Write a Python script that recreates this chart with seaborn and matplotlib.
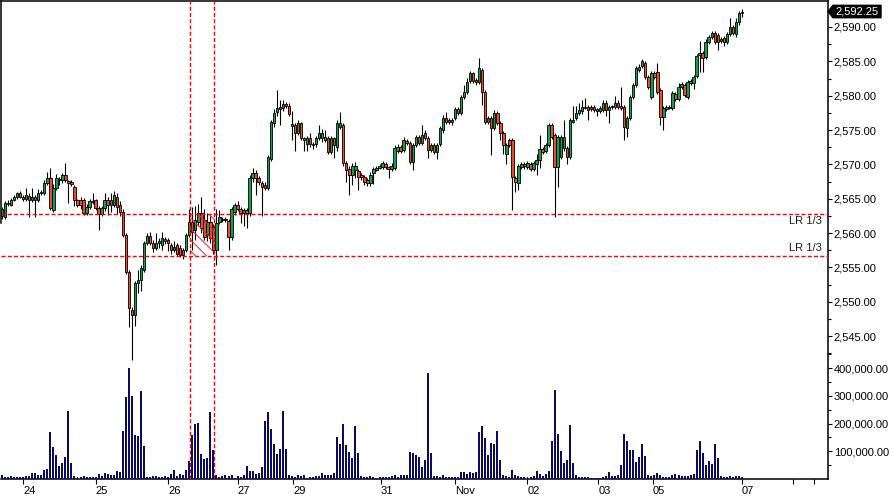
import numpy as np
import pandas as pd
import matplotlib
matplotlib.use("Agg")
import matplotlib.pyplot as plt
import matplotlib.transforms as mtransforms
from matplotlib.patches import Rectangle, Polygon
from matplotlib.collections import LineCollection
import seaborn as sns

# ---------------- data ----------------
opens = [
    2562.5, 2562.3, 2564.4, 2564.1, 2564.8, 2565.3, 2565.9, 2565.3, 2564.9, 2565.4, 2564.8, 2565.3, 2564.8, 2565.8, 2565.9, 2567.3,
    2568.0, 2563.4, 2566.6, 2567.8, 2567.7, 2568.5, 2567.6, 2567.5, 2566.7, 2564.8, 2564.8, 2564.8, 2562.9, 2563.8, 2564.5, 2564.8,
    2563.7, 2562.8, 2563.7, 2564.8, 2564.1, 2564.1, 2565.3, 2564.1, 2563.0, 2559.7, 2554.3, 2548.8, 2548.1, 2552.7, 2553.2, 2554.6,
    2558.6, 2559.6, 2558.6, 2557.8, 2558.5, 2558.3, 2559.1, 2559.0, 2558.3, 2557.5, 2558.3, 2557.8, 2557.5, 2557.5, 2559.7, 2561.6,
    2560.5, 2561.6, 2562.9, 2561.9, 2559.8, 2561.6, 2560.9, 2557.5, 2561.6, 2562.0, 2561.9, 2561.8, 2559.4, 2563.0, 2564.1, 2563.5,
    2562.9, 2563.3, 2562.9, 2568.0, 2568.8, 2568.0, 2567.3, 2567.0, 2566.6, 2570.8, 2576.0, 2577.6, 2578.4, 2578.2, 2578.8, 2578.5,
    2575.9, 2575.7, 2574.6, 2576.0, 2573.8, 2572.9, 2573.8, 2573.0, 2572.9, 2573.8, 2573.8, 2574.0, 2573.8, 2571.8, 2573.8, 2572.5,
    2575.5, 2575.7, 2570.2, 2569.4, 2568.5, 2569.2, 2569.0, 2568.4, 2568.2, 2567.7, 2567.3, 2568.7, 2569.2, 2569.5, 2569.6, 2570.1,
    2569.6, 2569.3, 2569.5, 2572.0, 2572.5, 2572.1, 2573.4, 2573.1, 2570.3, 2572.8, 2574.0, 2573.1, 2574.5, 2573.9, 2572.1, 2572.8,
    2571.8, 2573.0, 2575.0, 2576.8, 2576.4, 2576.4, 2576.7, 2578.0, 2577.5, 2579.8, 2580.5, 2582.1, 2583.3, 2582.3, 2582.0, 2583.7,
    2580.5, 2576.2, 2576.8, 2575.3, 2577.5, 2576.0, 2574.6, 2571.5, 2573.5, 2573.5, 2568.0, 2567.3, 2569.6, 2570.1, 2569.6, 2570.1,
    2569.4, 2570.0, 2570.6, 2572.3, 2571.9, 2572.8, 2575.7, 2574.3, 2569.6, 2571.1, 2572.4, 2572.4, 2571.1, 2576.2, 2576.7, 2577.5,
    2577.7, 2578.4, 2578.4, 2578.0, 2578.3, 2578.0, 2577.8, 2577.9, 2579.0, 2577.9, 2578.3, 2578.4, 2579.0, 2578.5, 2578.4, 2575.3,
    2576.8, 2579.8, 2581.6, 2583.8, 2584.3, 2584.8, 2582.7, 2579.8, 2583.3, 2583.5, 2580.8, 2576.9, 2578.0, 2578.2, 2578.2, 2580.3,
    2579.5, 2581.3, 2581.6, 2579.8, 2581.9, 2581.9, 2582.9, 2585.9, 2586.2, 2585.6, 2587.8, 2588.5, 2589.1, 2588.8, 2587.9, 2588.4,
    2587.8, 2589.0, 2590.0, 2589.0, 2590.7, 2592.0,
]
highs = [
    2563.8, 2564.6, 2564.8, 2565.1, 2565.6, 2566.0, 2566.1, 2565.5, 2566.6, 2565.8, 2566.5, 2565.6, 2566.4, 2566.3, 2567.8, 2568.9,
    2569.5, 2567.2, 2568.6, 2568.2, 2568.8, 2570.2, 2567.8, 2567.8, 2567.0, 2565.0, 2565.2, 2565.1, 2564.2, 2565.0, 2565.8, 2565.0,
    2564.0, 2564.0, 2565.8, 2565.2, 2565.8, 2566.1, 2565.8, 2564.6, 2563.5, 2560.0, 2554.6, 2549.3, 2553.0, 2554.6, 2555.3, 2558.9,
    2560.0, 2560.1, 2559.0, 2560.0, 2559.3, 2560.1, 2559.5, 2559.3, 2558.6, 2558.8, 2558.6, 2558.2, 2557.8, 2560.0, 2563.5, 2563.8,
    2564.0, 2564.3, 2565.2, 2563.5, 2562.9, 2562.5, 2561.3, 2563.5, 2563.4, 2562.3, 2562.3, 2562.0, 2563.8, 2564.4, 2564.6, 2563.8,
    2563.6, 2563.7, 2568.4, 2569.5, 2569.2, 2568.3, 2567.6, 2567.4, 2571.4, 2576.5, 2578.0, 2580.8, 2579.3, 2579.3, 2579.1, 2578.9,
    2577.8, 2576.0, 2576.4, 2576.2, 2574.0, 2574.2, 2574.5, 2573.3, 2574.2, 2575.8, 2575.2, 2575.0, 2574.2, 2574.2, 2574.0, 2576.4,
    2577.6, 2576.0, 2570.5, 2569.8, 2570.2, 2570.3, 2569.3, 2568.7, 2568.5, 2568.0, 2568.9, 2569.6, 2569.8, 2570.0, 2570.5, 2570.4,
    2569.8, 2570.2, 2572.8, 2573.0, 2572.8, 2574.0, 2573.7, 2573.4, 2573.1, 2574.3, 2574.3, 2575.8, 2575.0, 2574.2, 2573.1, 2573.1,
    2573.1, 2575.6, 2577.2, 2577.6, 2576.8, 2576.7, 2578.3, 2578.3, 2580.1, 2581.6, 2582.6, 2583.6, 2583.5, 2582.6, 2585.5, 2584.1,
    2580.8, 2577.1, 2577.1, 2577.9, 2577.8, 2576.3, 2574.9, 2573.1, 2573.8, 2573.8, 2568.3, 2570.1, 2570.4, 2570.4, 2570.5, 2570.4,
    2570.5, 2571.5, 2574.3, 2572.6, 2573.1, 2576.0, 2576.0, 2574.6, 2574.3, 2574.3, 2576.5, 2572.7, 2576.8, 2578.5, 2578.5, 2579.0,
    2579.3, 2579.6, 2578.6, 2578.7, 2578.6, 2578.2, 2578.5, 2579.3, 2579.3, 2578.7, 2578.7, 2580.0, 2579.3, 2581.3, 2578.7, 2577.1,
    2580.1, 2581.9, 2584.3, 2584.6, 2585.3, 2585.1, 2583.0, 2583.6, 2583.6, 2584.7, 2581.1, 2578.5, 2578.6, 2578.7, 2580.7, 2580.6,
    2581.9, 2582.0, 2581.9, 2582.3, 2582.5, 2583.0, 2586.1, 2588.0, 2586.5, 2588.3, 2588.8, 2589.4, 2589.4, 2589.1, 2588.5, 2588.7,
    2589.3, 2591.3, 2590.3, 2591.3, 2592.3, 2592.6,
]
lows = [
    2562.0, 2562.0, 2563.9, 2563.9, 2564.6, 2565.0, 2565.1, 2564.6, 2564.6, 2562.3, 2564.5, 2562.4, 2564.5, 2565.5, 2565.6, 2567.0,
    2563.4, 2563.0, 2566.3, 2567.0, 2567.3, 2567.5, 2564.4, 2566.9, 2564.0, 2563.8, 2563.5, 2562.6, 2562.6, 2563.5, 2564.3, 2563.4,
    2560.5, 2562.5, 2563.2, 2562.6, 2563.0, 2563.8, 2562.8, 2562.5, 2559.4, 2554.0, 2546.3, 2541.5, 2546.5, 2551.3, 2551.5, 2554.3,
    2558.3, 2558.2, 2557.3, 2557.5, 2557.8, 2557.6, 2558.4, 2557.4, 2557.0, 2557.2, 2556.7, 2556.5, 2556.2, 2557.3, 2559.4, 2557.5,
    2559.0, 2561.0, 2560.0, 2559.0, 2558.8, 2558.5, 2557.0, 2555.4, 2561.3, 2561.6, 2561.6, 2557.5, 2559.0, 2562.7, 2563.2, 2561.5,
    2561.0, 2560.8, 2562.5, 2567.4, 2565.5, 2567.0, 2562.5, 2566.2, 2566.3, 2570.5, 2575.5, 2577.0, 2575.7, 2577.8, 2578.2, 2577.0,
    2573.5, 2572.0, 2574.3, 2573.5, 2572.0, 2572.0, 2572.6, 2572.3, 2572.6, 2573.5, 2573.3, 2573.2, 2571.5, 2571.5, 2571.0, 2572.0,
    2575.2, 2569.8, 2567.4, 2565.5, 2567.0, 2568.0, 2566.3, 2567.8, 2567.0, 2566.8, 2566.9, 2567.2, 2569.0, 2569.3, 2569.4, 2569.3,
    2568.0, 2569.0, 2569.2, 2571.7, 2571.6, 2571.8, 2572.8, 2570.0, 2569.2, 2572.5, 2572.8, 2572.8, 2573.5, 2571.0, 2571.8, 2571.5,
    2570.8, 2572.7, 2574.6, 2575.9, 2575.9, 2575.8, 2576.4, 2577.2, 2577.2, 2579.5, 2580.2, 2581.8, 2581.8, 2581.5, 2581.7, 2578.6,
    2575.9, 2575.9, 2571.4, 2575.0, 2575.7, 2573.5, 2571.5, 2570.0, 2572.5, 2563.4, 2566.0, 2566.3, 2569.3, 2569.4, 2569.3, 2569.1,
    2569.0, 2568.5, 2569.5, 2571.5, 2571.6, 2572.5, 2573.7, 2562.3, 2566.7, 2570.8, 2572.0, 2570.0, 2570.8, 2576.0, 2576.4, 2577.2,
    2577.4, 2578.0, 2576.5, 2577.7, 2577.6, 2577.0, 2577.5, 2577.6, 2577.0, 2576.0, 2578.0, 2578.1, 2578.0, 2577.9, 2573.5, 2574.0,
    2576.5, 2579.5, 2581.3, 2583.5, 2584.0, 2582.4, 2581.0, 2579.5, 2582.4, 2580.2, 2575.7, 2575.0, 2577.7, 2578.0, 2577.9, 2579.2,
    2579.2, 2581.0, 2579.8, 2579.5, 2581.6, 2581.0, 2582.6, 2583.5, 2583.5, 2585.3, 2587.5, 2588.2, 2587.5, 2586.6, 2587.6, 2587.2,
    2587.5, 2588.7, 2588.8, 2588.5, 2590.3, 2591.5,
]
closes = [
    2563.5, 2564.4, 2564.2, 2564.8, 2565.3, 2565.8, 2565.3, 2564.9, 2565.5, 2564.8, 2565.3, 2564.8, 2565.8, 2566.0, 2567.3, 2568.0,
    2563.7, 2566.6, 2568.0, 2567.7, 2568.5, 2567.7, 2567.3, 2567.2, 2564.8, 2564.1, 2564.1, 2562.9, 2563.8, 2564.6, 2564.7, 2563.7,
    2562.8, 2563.7, 2564.8, 2564.1, 2564.8, 2565.5, 2563.8, 2563.1, 2559.7, 2554.3, 2549.1, 2548.1, 2552.7, 2553.2, 2554.9, 2558.6,
    2559.6, 2558.6, 2557.8, 2558.6, 2558.8, 2559.3, 2558.9, 2558.5, 2557.5, 2558.0, 2557.0, 2556.8, 2556.8, 2559.7, 2561.6, 2560.2,
    2561.9, 2562.9, 2560.7, 2559.4, 2561.6, 2559.3, 2557.5, 2561.5, 2562.3, 2561.9, 2562.0, 2559.4, 2563.5, 2564.1, 2563.5, 2562.9,
    2563.3, 2562.9, 2568.0, 2568.8, 2568.0, 2567.4, 2566.7, 2566.6, 2571.1, 2576.2, 2577.5, 2578.2, 2578.0, 2578.8, 2578.5, 2577.4,
    2575.6, 2574.6, 2576.0, 2573.8, 2573.5, 2573.8, 2573.0, 2572.8, 2573.8, 2574.6, 2574.5, 2573.5, 2571.8, 2573.8, 2572.8, 2576.0,
    2576.0, 2570.2, 2569.2, 2568.5, 2569.8, 2569.8, 2568.2, 2568.2, 2567.5, 2567.3, 2568.5, 2569.3, 2569.5, 2569.8, 2570.2, 2569.6,
    2569.4, 2569.8, 2572.4, 2572.5, 2571.9, 2573.5, 2573.1, 2570.3, 2572.8, 2574.0, 2573.1, 2574.3, 2573.8, 2572.1, 2572.8, 2571.8,
    2572.8, 2575.3, 2576.8, 2576.2, 2576.2, 2576.1, 2578.0, 2577.5, 2579.8, 2580.5, 2582.0, 2583.3, 2582.1, 2582.0, 2584.0, 2580.5,
    2576.2, 2576.8, 2575.3, 2577.5, 2576.0, 2574.6, 2572.8, 2572.8, 2572.8, 2568.2, 2567.4, 2569.8, 2570.1, 2569.8, 2570.2, 2569.4,
    2570.2, 2570.6, 2572.3, 2571.8, 2572.8, 2575.7, 2574.0, 2569.6, 2574.0, 2574.0, 2574.0, 2571.1, 2576.5, 2576.5, 2577.5, 2577.9,
    2578.4, 2578.2, 2577.9, 2578.4, 2577.9, 2577.8, 2578.2, 2579.0, 2577.9, 2578.4, 2578.4, 2579.0, 2578.3, 2578.2, 2575.4, 2576.8,
    2579.8, 2581.6, 2584.0, 2584.2, 2585.0, 2582.7, 2581.3, 2583.3, 2582.7, 2580.5, 2576.9, 2578.2, 2578.3, 2578.4, 2580.4, 2579.5,
    2581.3, 2581.7, 2580.1, 2582.0, 2582.2, 2582.7, 2585.8, 2586.2, 2585.5, 2587.8, 2588.5, 2589.1, 2587.8, 2587.8, 2588.2, 2587.8,
    2589.0, 2590.0, 2589.1, 2590.7, 2592.0, 2592.25,
]
volume_k = [
    15, 8, 8, 10, 7, 7, 7, 7, 10, 10, 22, 22, 14, 14, 32, 37,
    170, 117, 87, 47, 57, 79, 245, 58, 10, 7, 7, 10, 7, 7, 7, 7,
    18, 10, 22, 18, 14, 14, 30, 25, 174, 297, 400, 301, 159, 155, 319, 119,
    7, 8, 10, 10, 7, 7, 10, 7, 18, 32, 10, 18, 14, 32, 66, 159,
    199, 203, 90, 71, 77, 242, 105, 14, 7, 10, 14, 10, 14, 4, 10, 7,
    14, 47, 30, 30, 18, 23, 42, 211, 242, 180, 126, 90, 107, 245, 108, 14,
    10, 7, 14, 10, 14, 4, 7, 7, 10, 10, 23, 14, 14, 14, 23, 152,
    126, 199, 123, 97, 76, 191, 94, 10, 7, 7, 10, 7, 4, 7, 7, 7,
    7, 10, 14, 7, 14, 14, 14, 97, 94, 87, 78, 45, 69, 383, 94, 10,
    10, 7, 14, 7, 7, 7, 7, 7, 25, 25, 18, 25, 22, 25, 170, 191,
    148, 87, 130, 126, 173, 69, 14, 10, 7, 32, 14, 10, 7, 7, 7, 7,
    10, 29, 18, 10, 18, 29, 137, 321, 162, 101, 58, 69, 195, 58, 14, 7,
    7, 7, 7, 4, 4, 4, 4, 7, 10, 25, 10, 10, 14, 51, 162, 137,
    105, 105, 61, 79, 126, 83, 14, 10, 14, 22, 14, 7, 7, 7, 14, 18,
    14, 10, 10, 10, 14, 18, 105, 137, 94, 51, 65, 54, 126, 76, 10, 7,
    7, 10, 7, 10, 10, 7,
]
date_ticks = [7, 31, 55, 78, 96.5, 125.5, 150, 174, 197.5, 215.5, 245, 262, 269]
date_labels = ["24", "25", "26", "27", "29", "31", "Nov", "02", "03", "05", "07", "", ""]
price_ticks = [2545, 2550, 2555, 2560, 2565, 2570, 2575, 2580, 2585, 2590]
volume_ticks = [100000, 200000, 300000, 400000]
lr_levels = [2562.78, 2556.67]
lr_bars = [62.3, 70.2]
last_price = 2592.25

# ---------------- figure ----------------
sns.set_theme(style="white")
plt.rcParams["font.family"] = ["Liberation Sans", "DejaVu Sans"]

W, H = 894, 496
fig = plt.figure(figsize=(W / 100, H / 100), dpi=100)
fig.patch.set_facecolor("white")
rect = [1 / W, 17 / H, 827 / W, 478 / H]
ax = fig.add_axes(rect)
vax = fig.add_axes(rect, sharex=ax)
vax.patch.set_visible(False)

o = np.array(opens); h = np.array(highs); l = np.array(lows); c = np.array(closes)
idx = np.arange(len(o))
up = c >= o
green, red, navy = "#12a04c", "#ee4b2b", "#0b0b66"
cols = np.where(up, green, red)

# candles
ax.vlines(idx, l, h, color="black", lw=0.8, zorder=2)
ax.bar(idx, np.maximum(np.abs(c - o), 0.15), bottom=np.minimum(o, c), width=0.8,
       color=cols, edgecolor="black", linewidth=0.6, zorder=3)

# volume via seaborn
vol_df = pd.DataFrame({"i": idx, "vol": np.array(volume_k) * 1000.0})
sns.barplot(data=vol_df, x="i", y="vol", native_scale=True, color=navy, saturation=1,
            width=0.66, linewidth=0, errorbar=None, ax=vax)
vax.set_xlabel(""); vax.set_ylabel("")

# limits
ax.set_xlim(-0.33, 273.5)
ax.set_ylim(2524.21, 2593.78)
vax.set_ylim(0, 1725600)

# LR lines and hatch
dash = (0, (2.9, 1.6))
for lv in lr_levels:
    ax.axhline(lv, color="#ff0000", lw=1.0, ls=dash, zorder=4)
for xv in lr_bars:
    ax.axvline(xv, color="#ff0000", lw=1.0, ls=dash, zorder=4)

# diagonal hatch inside the LR box (45 degrees on screen), clipped to the box
px_per_x = 827 / (273.5 + 0.33)
px_per_p = 478 / (2593.78 - 2524.21)
slope = -px_per_x / px_per_p
box = Rectangle((lr_bars[0], lr_levels[1]), lr_bars[1] - lr_bars[0],
                lr_levels[0] - lr_levels[1], transform=ax.transData, fill=False, lw=0)
ax.add_patch(box)
width_x = lr_bars[1] - lr_bars[0]
step_p = 11 / px_per_p
segs = []
b = lr_levels[1] + step_p * 0.5
while b < lr_levels[0] + abs(slope) * width_x:
    segs.append([(lr_bars[0], b), (lr_bars[1], b + slope * width_x)])
    b += step_p
hatch = LineCollection(segs, colors="#ff2020", linewidths=0.7, zorder=3.5)
ax.add_collection(hatch)
hatch.set_clip_path(box)

bt = mtransforms.blended_transform_factory(ax.transAxes, ax.transData)
ax.text(0.9927, 2561.76, "LR 1/3", transform=bt, ha="right", va="center", fontsize=8, color="#1a1a1a")
ax.text(0.9927, 2557.83, "LR 1/3", transform=bt, ha="right", va="center", fontsize=8, color="#1a1a1a")

# spines
for a in (ax, vax):
    for s in a.spines.values():
        s.set_visible(False)
for s in ("top", "left", "bottom", "right"):
    ax.spines[s].set_visible(True)
    ax.spines[s].set_color("black")
    ax.spines[s].set_linewidth(1.1)
ax.spines["left"].set_bounds(2561.5, 2593.78)

# y ticks (right side)
ax.yaxis.tick_right()
ax.set_yticks(price_ticks)
ax.set_yticklabels([f"{v:,.2f}" for v in price_ticks])
ax.set_yticks([v + 2.5 for v in price_ticks[:-1]] + [2542.5], minor=True)
ax.tick_params(axis="y", which="major", right=True, left=False, labelright=True, labelleft=False,
               direction="out", length=3.2, width=0.8, pad=1, labelsize=8, colors="black")
ax.tick_params(axis="y", which="minor", right=True, left=False, direction="out", length=2, width=0.8, colors="black")

vax.yaxis.tick_right()
vax.set_yticks(volume_ticks)
vax.set_yticklabels([f"{v:,.2f}" for v in volume_ticks])
vax.set_yticks([50000, 150000, 250000, 350000, 450000], minor=True)
vax.tick_params(axis="y", which="major", right=True, left=False, labelright=True, labelleft=False,
                direction="out", length=3.2, width=0.8, pad=1, labelsize=8, colors="black")
vax.tick_params(axis="y", which="minor", right=True, left=False, direction="out", length=2, width=0.8, colors="black")
vax.tick_params(axis="x", bottom=False, labelbottom=False)

# x ticks
ax.set_xticks(date_ticks)
ax.set_xticklabels(date_labels)
ax.tick_params(axis="x", bottom=True, direction="out", length=3.5, width=0.8, pad=1.5,
               labelsize=8, colors="black")
for lbl in ax.get_xticklabels():
    lbl.set_ha("left")
ax.grid(False); vax.grid(False)

# last price tag
tx0, tx1, tx2 = 1.0, 1.0060, 1.0641
hh = 0.9
tag = Polygon([[tx0, last_price], [tx1, last_price + hh], [tx2, last_price + hh],
               [tx2, last_price - hh], [tx1, last_price - hh]], closed=True,
              transform=bt, facecolor="black", edgecolor="black", clip_on=False, zorder=10)
ax.add_patch(tag)
ax.text(1.0085, last_price, f"{last_price:,.2f}", transform=bt, ha="left", va="center",
        fontsize=8, color="white", clip_on=False, zorder=11)

fig.savefig("out.png", dpi=100, facecolor="white")
